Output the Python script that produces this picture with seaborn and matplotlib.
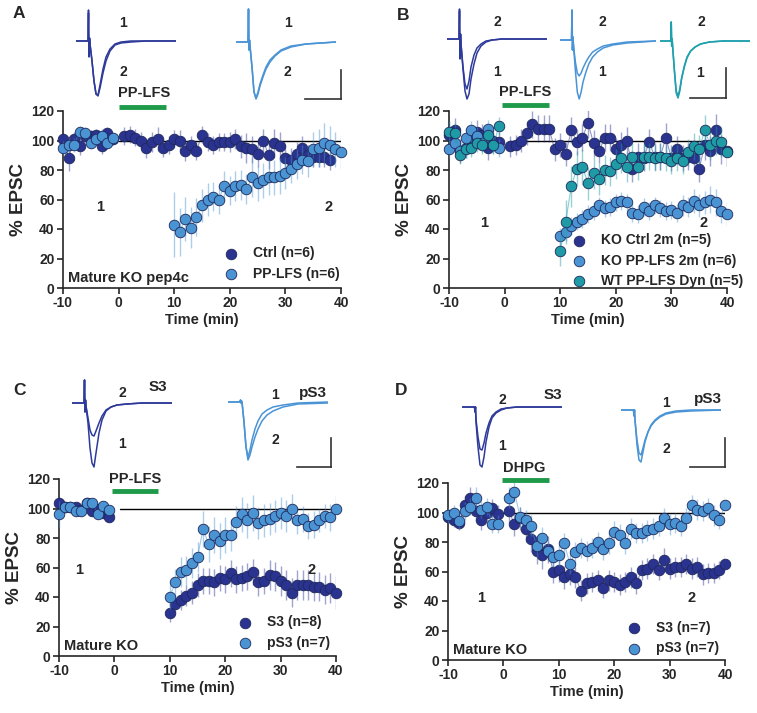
import seaborn as sns
import matplotlib.pyplot as plt
import numpy as np

W, H = 757, 713

NAVY = "#2b3391"
LIGHT = "#4b94d4"
TEAL = "#1f9ba6"
EDGE = "#1e285a"
GREEN = "#1e9a4a"

PRE = list(range(-10, 0))

# ---- panel A: Mature KO pep4c
a_ctrl_t = PRE + list(range(1, 39))
a_ctrl = [101, 88, 101, 96, 103, 103, 104, 96, 105, 101,
          103, 104, 102, 100, 95, 99, 101, 95, 97, 101, 100, 93, 97, 93, 104, 99, 97, 99, 99,
          99, 101, 96, 95, 94, 91, 100, 90, 98, 96, 88, 87, 91, 95, 90, 89, 89, 89, 87]
a_ctrl_err = [5, 9, 5, 6, 4, 4, 4, 5, 4, 4,
              6, 6, 6, 6, 7, 7, 8, 6, 6, 6, 7, 7, 6, 6, 6, 6, 6, 6, 6,
              7, 7, 8, 10, 9, 9, 8, 9, 10, 10, 9, 8, 8, 8, 7, 7, 7, 7, 7]
a_lfs_t = PRE + list(range(10, 41))
a_lfs = [95, 97, 97, 106, 105, 98, 101, 103, 98, 102,
         43, 38, 47, 41, 48, 56, 60, 62, 60, 69, 66, 69, 70, 67, 75, 71, 73, 75, 75, 76,
         78, 81, 84, 87, 86, 94, 95, 98, 97, 94, 92]
a_lfs_err = [5, 5, 5, 4, 4, 4, 4, 5, 4, 4,
             22, 16, 15, 14, 13, 11, 11, 10, 10, 10, 10, 10, 10, 10, 13, 12, 12, 12, 12, 12,
             11, 10, 10, 10, 11, 12, 13, 14, 13, 12, 11]

# ---- panel B
b_ctrl_t = PRE + list(range(1, 41))
b_ctrl = [104, 107, 93, 95, 101, 106, 104, 95, 100, 99,
          96, 97, 100, 105, 111, 108, 108, 108, 94, 97, 91, 107, 99, 102, 112, 98, 93, 102, 102, 94,
          97, 100, 81, 89, 88, 99, 89, 89, 102, 88, 94, 88, 89, 88, 81, 97, 93, 107, 94, 93]
b_ctrl_err = [9, 8, 8, 7, 8, 8, 7, 8, 7, 7,
              7, 7, 8, 8, 9, 9, 9, 9, 8, 8, 8, 9, 9, 9, 10, 9, 8, 9, 9, 8,
              9, 9, 9, 9, 9, 9, 9, 9, 10, 9, 9, 9, 9, 9, 9, 10, 10, 11, 10, 10]
b_lfs_t = PRE + list(range(10, 41))
b_lfs = [94, 98, 93, 102, 107, 103, 98, 108, 97, 95,
         35, 38, 42, 45, 47, 50, 52, 56, 54, 55, 58, 59, 58, 51, 50, 55, 52, 56, 54, 52,
         53, 51, 56, 55, 59, 56, 58, 60, 58, 52, 50]
b_lfs_err = [6, 6, 6, 6, 6, 6, 6, 6, 6, 6,
             6, 6, 6, 6, 6, 6, 6, 6, 6, 6, 6, 6, 6, 6, 6, 6, 6, 6, 6, 6,
             6, 6, 7, 7, 8, 8, 8, 9, 9, 8, 8]
b_dyn_t = PRE + list(range(10, 41))
b_dyn = [106, 105, 90, 94, 95, 98, 97, 104, 97, 110,
         25, 45, 69, 81, 82, 71, 78, 74, 80, 79, 84, 88, 82, 89, 82, 89, 89, 88, 89, 88,
         86, 88, 86, 92, 96, 94, 107, 97, 100, 99, 92]
b_dyn_err = [7, 7, 6, 6, 6, 6, 6, 6, 6, 6,
             10, 15, 14, 12, 12, 11, 11, 11, 10, 10, 10, 10, 10, 9, 9, 9, 9, 9, 9, 9,
             9, 9, 9, 9, 9, 10, 10, 10, 10, 10, 10]

# ---- panel C
c_s3_t = PRE + list(range(10, 41))
c_s3 = [104, 101, 101, 101, 99, 104, 98, 100, 97, 94,
        29, 35, 38, 41, 43, 48, 51, 51, 50, 53, 52, 56, 52, 53, 54, 57, 50, 51, 55, 54,
        51, 48, 43, 48, 48, 48, 47, 47, 45, 46, 43]
c_s3_err = [4, 3, 3, 3, 3, 3, 3, 3, 3, 3,
            6, 6, 7, 7, 8, 8, 9, 9, 9, 9, 9, 9, 9, 9, 9, 9, 9, 9, 10, 10,
            10, 10, 10, 10, 10, 10, 10, 10, 10, 10, 11]
c_ps3_t = PRE + list(range(10, 41))
c_ps3 = [96, 101, 101, 98, 98, 104, 104, 96, 102, 99,
         40, 50, 57, 58, 63, 67, 86, 76, 82, 78, 82, 82, 91, 96, 92, 97, 90, 92, 93, 95,
         97, 95, 100, 92, 93, 88, 89, 92, 95, 94, 100]
c_ps3_err = [9, 3, 3, 3, 3, 3, 3, 3, 3, 3,
             8, 9, 10, 10, 10, 10, 12, 12, 12, 12, 12, 11, 11, 12, 12, 12, 11, 11, 11, 11,
             11, 11, 10, 9, 9, 9, 9, 8, 8, 9, 9]

# ---- panel D
d_s3_t = PRE + list(range(1, 41))
d_s3 = [97, 95, 93, 105, 110, 101, 95, 100, 103, 99,
        101, 92, 96, 89, 82, 74, 71, 75, 60, 61, 56, 58, 56, 47, 52, 53, 54, 49, 54, 53,
        51, 53, 56, 52, 61, 62, 65, 61, 68, 62, 63, 63, 65, 62, 63, 58, 59, 59, 61, 65]
d_s3_err = [5, 5, 5, 6, 7, 7, 7, 6, 6, 6,
            8, 8, 8, 9, 9, 9, 9, 9, 8, 8, 8, 7, 7, 7, 7, 7, 7, 7, 7, 7,
            7, 7, 7, 7, 7, 7, 7, 7, 8, 7, 7, 7, 7, 7, 7, 7, 7, 7, 6, 6]
d_ps3_t = PRE + list(range(1, 41))
d_ps3 = [98, 100, 94, 101, 104, 110, 102, 104, 92, 92,
         110, 114, 97, 95, 91, 77, 83, 74, 70, 71, 79, 65, 73, 76, 74, 76, 80, 75, 79, 87,
         85, 79, 89, 86, 86, 88, 89, 91, 96, 92, 93, 91, 96, 105, 102, 101, 103, 98, 95, 105]
d_ps3_err = [5, 5, 5, 6, 6, 7, 6, 6, 6, 6,
             7, 7, 7, 7, 7, 7, 7, 7, 7, 7, 7, 7, 7, 7, 7, 7, 7, 7, 7, 7,
             7, 7, 7, 7, 7, 7, 7, 7, 7, 7, 7, 7, 7, 7, 7, 7, 7, 7, 6, 6]

# ---- example EPSC traces (time grid in ms, amplitude in arbitrary units)
TR_T = [0, 10, 12, 12.5, 13, 13.5, 14, 16, 18, 20, 22, 24, 27, 30, 34, 39, 45, 55, 70, 100]
tr_a_d1 = [0, 0, 0, 31, -16, 3, -3, -20, -40, -53, -54, -44, -28, -16, -8, -3, -1, 0, 0, 0]
tr_a_d2 = [0, 0, 0, 28, -14, 3, -3, -20, -40, -53, -55, -47, -32, -20, -10, -4, -2, -1, 0, 0]
tr_a_l1 = [0, 0, 0, 33, -8, 2, -4, -25, -50, -57, -52, -44, -35, -27, -20, -14, -9, -5, -2, 0]
tr_a_l2 = [0, 0, 0, 33, -8, 2, -4, -25, -50, -56, -50, -42, -33, -25, -18, -13, -8, -4, -2, 0]
tr_b_d1 = [0, 0, 0, 30, -20, 5, -5, -30, -52, -60, -55, -40, -25, -14, -7, -3, -1, 0, 0, 0]
tr_b_d2 = [0, 0, 0, 28, -18, 5, -5, -28, -45, -50, -42, -28, -16, -9, -5, -2, -1, 0, 0, 0]
tr_b_l1 = [0, 0, 0, 30, -10, 3, -5, -30, -52, -59, -52, -42, -32, -24, -17, -12, -8, -5, -3, -1]
tr_b_l2 = [0, 0, 0, 30, -10, 3, -5, -22, -33, -36, -33, -28, -22, -17, -12, -9, -6, -4, -2, -1]
tr_b_t1 = [0, 0, 0, 19, -5, 2, -5, -30, -52, -57, -50, -38, -26, -17, -10, -6, -3, -1, 0, 0]
tr_b_t2 = [0, 0, 0, 19, -5, 2, -5, -29, -50, -55, -48, -37, -25, -16, -10, -6, -3, -1, 0, 0]
tr_c_d1 = [0, 0, 0, 23, -9, 3, -3, -20, -45, -60, -64, -50, -30, -17, -8, -4, -2, -1, 0, 0]
tr_c_d2 = [0, 0, 0, 23, -9, 3, -3, -15, -27, -32, -33, -28, -20, -13, -7, -4, -2, -1, 0, 0]
tr_c_l1 = [0, 0, 0, 2, -1, 1, 0, -20, -45, -55, -48, -38, -27, -19, -12, -8, -5, -3, -1, 0]
tr_c_l2 = [0, 0, 0, 2, -1, 1, 0, -20, -45, -58, -53, -45, -35, -27, -19, -13, -9, -5, -2, -1]
tr_d_d1 = [0, 0, 0, 0, -5, 0, -15, -40, -58, -60, -50, -35, -20, -11, -6, -3, -1, 0, 0, 0]
tr_d_d2 = [0, 0, 0, 0, -5, 0, -12, -30, -42, -43, -36, -26, -16, -9, -5, -2, -1, 0, 0, 0]
tr_d_l1 = [0, 0, 0, 0, -6, 0, -10, -35, -50, -52, -42, -32, -22, -15, -10, -6, -3, -1, 0, 0]
tr_d_l2 = [0, 0, 0, 0, -6, 0, -10, -30, -43, -45, -38, -30, -22, -16, -11, -7, -4, -2, -1, 0]

sns.set_style("ticks")
plt.rcParams["font.family"] = ["Liberation Sans", "DejaVu Sans"]
plt.rcParams["font.weight"] = "bold"
plt.rcParams["axes.unicode_minus"] = False

fig = plt.figure(figsize=(W / 100, H / 100), dpi=100)


def rect(x0, y0, x1, y1):
    return [x0 / W, 1 - y1 / H, (x1 - x0) / W, (y1 - y0) / H]


def ftext(x, y, s, size=10, ha="center"):
    fig.text(x / W, 1 - y / H, s, fontsize=size, fontweight="bold", ha=ha, va="center")


def main_axes(box):
    ax = fig.add_axes(rect(*box))
    ax.set_xlim(-10, 40)
    ax.set_ylim(0, 120)
    ax.set_xticks(range(-10, 41, 10))
    ax.set_yticks(range(0, 121, 20))
    sns.despine(ax=ax)
    for sp in ax.spines.values():
        sp.set_linewidth(1.2)
    ax.tick_params(direction="out", length=4, width=1.2, labelsize=10, pad=2)
    for lab in ax.get_xticklabels() + ax.get_yticklabels():
        lab.set_fontweight("bold")
    ax.set_xlabel("Time (min)", fontsize=10.5, fontweight="bold", labelpad=2)
    ax.set_ylabel("% EPSC", fontsize=13.5, fontweight="bold", labelpad=3)
    return ax


def series(ax, t, y, err, color, label, z):
    t = np.array(t)
    y = np.array(y)
    err = np.array(err)
    cut = np.where(np.diff(t) > 1)[0] + 1
    for tt, yy in zip(np.split(t, cut), np.split(y, cut)):
        ax.plot(tt, yy, color=color, lw=0.8, alpha=0.5, zorder=z)
    ax.errorbar(t, y, yerr=err, fmt="none", ecolor=color, elinewidth=1.0,
                alpha=0.45, capsize=0, zorder=z)
    sns.scatterplot(x=t, y=y, ax=ax, color=color, s=58, edgecolor=EDGE,
                    linewidth=0.6, label=label, zorder=z + 1, clip_on=False)


def decorate(ax, bar, bar_y, stim, stim_xy, line_x0, one_xy, two_xy, note=None):
    ax.plot([line_x0, 40], [100, 100], color="black", lw=1.0, zorder=1)
    ax.plot(bar, [bar_y, bar_y], color=GREEN, lw=3.5, solid_capstyle="butt",
            clip_on=False, zorder=5)
    ax.text(*stim_xy, stim, fontsize=10.5, fontweight="bold", ha="center", va="center")
    ax.text(*one_xy, "1", fontsize=10.5, fontweight="bold", ha="center", va="center")
    ax.text(*two_xy, "2", fontsize=10.5, fontweight="bold", ha="center", va="center")
    if note:
        ax.text(-9.1, 7, note, fontsize=10.5, fontweight="bold", ha="left", va="center")


def legend(ax, anchor):
    leg = ax.legend(frameon=False, loc="lower right", bbox_to_anchor=anchor,
                    borderaxespad=0, handletextpad=1.0, labelspacing=0.45,
                    handlelength=1.2, prop={"size": 10, "weight": "bold"})
    return leg


def traces(left, base, pair, color, width=100):
    ax = fig.add_axes(rect(left, base - 35, left + width, base + 70))
    ax.set_xlim(0, 100)
    ax.set_ylim(-70, 35)
    ax.axis("off")
    for tr in pair:
        ax.plot(TR_T, tr, color=color, lw=1.1)
    return ax


def scalebar(box):
    ax = fig.add_axes(rect(*box))
    ax.set_xticks([])
    ax.set_yticks([])
    ax.patch.set_alpha(0)
    for side in ["top", "left"]:
        ax.spines[side].set_visible(False)
    for side in ["right", "bottom"]:
        ax.spines[side].set_linewidth(1.2)
        ax.spines[side].set_color("#333333")


# ---- A
ax = main_axes((63, 111, 341, 288))
series(ax, a_ctrl_t, a_ctrl, a_ctrl_err, NAVY, "Ctrl (n=6)", 3)
series(ax, a_lfs_t, a_lfs, a_lfs_err, LIGHT, "PP-LFS (n=6)", 5)
decorate(ax, [0.1, 8.5], 122.7, "PP-LFS", (4.6, 132), 0, (-3.4, 55), (37.7, 55),
         "Mature KO pep4c")
legend(ax, (1.015, 0.01))
traces(76, 41, [tr_a_d1, tr_a_d2], "#2e3a9a")
traces(236, 42, [tr_a_l1, tr_a_l2], "#4a94d6")
scalebar((305, 70, 341, 99))
ftext(19, 14, "A", 12.5)
ftext(123, 23, "1"); ftext(123, 72, "2")
ftext(288, 23, "1"); ftext(287, 72, "2")

# ---- B
ax = main_axes((449, 111, 727, 288))
series(ax, b_ctrl_t, b_ctrl, b_ctrl_err, NAVY, "KO Ctrl 2m (n=5)", 3)
series(ax, b_lfs_t, b_lfs, b_lfs_err, LIGHT, "KO PP-LFS 2m (n=6)", 5)
series(ax, b_dyn_t, b_dyn, b_dyn_err, TEAL, "WT PP-LFS Dyn (n=5)", 7)
decorate(ax, [-0.5, 7.9], 124, "PP-LFS", (3.7, 133), 1, (-3.7, 44), (35.7, 44))
legend(ax, (1.08, -0.03))
traces(447, 39, [tr_b_d1, tr_b_d2], "#2e3a9a")
traces(560, 40, [tr_b_l1, tr_b_l2], "#4a94d6", 96)
traces(660, 41, [tr_b_t1, tr_b_t2], "#1fa0ad", 90)
scalebar((690, 68, 726, 98))
ftext(403, 15, "B", 12.5)
ftext(497, 22, "2"); ftext(497, 72, "1")
ftext(602, 22, "2"); ftext(602, 72, "1")
ftext(701, 22, "2"); ftext(700, 73, "1")

# ---- C
ax = main_axes((59, 479, 336, 656))
series(ax, c_s3_t, c_s3, c_s3_err, NAVY, "S3 (n=8)", 3)
series(ax, c_ps3_t, c_ps3, c_ps3_err, LIGHT, "pS3 (n=7)", 5)
decorate(ax, [-0.4, 7.95], 112, "PP-LFS", (3.7, 120), 1, (-6.3, 58), (35.6, 58),
         "Mature KO")
legend(ax, (1.0, 0.005))
traces(72, 403, [tr_c_d1, tr_c_d2], "#2e3a9a")
traces(228, 402, [tr_c_l1, tr_c_l2], "#4a94d6")
scalebar((297, 438, 331, 467))
ftext(19, 390, "C", 12.5)
ftext(122, 393, "2"); ftext(158, 387, "S3", 11); ftext(122, 444, "1")
ftext(275, 395, "1"); ftext(313, 393, "pS3", 11); ftext(275, 440, "2")

# ---- D
ax = main_axes((448, 483, 725, 660))
series(ax, d_s3_t, d_s3, d_s3_err, NAVY, "S3 (n=7)", 3)
series(ax, d_ps3_t, d_ps3, d_ps3_err, LIGHT, "pS3 (n=7)", 5)
decorate(ax, [-0.25, 8.15], 122, "DHPG", (3.7, 130), 0, (-4, 42), (33.9, 42),
         "Mature KO")
legend(ax, (1.0, -0.005))
traces(462, 407, [tr_d_d1, tr_d_d2], "#2e3a9a")
traces(621, 410, [tr_d_l1, tr_d_l2], "#4a94d6")
scalebar((690, 438, 725, 467))
ftext(401, 391, "D", 12.5)
ftext(502, 400, "2"); ftext(553, 395, "S3", 11); ftext(502, 446, "1")
ftext(666, 403, "1"); ftext(708, 399, "pS3", 11); ftext(666, 449, "2")

fig.savefig("out.png", dpi=100, facecolor="white")
